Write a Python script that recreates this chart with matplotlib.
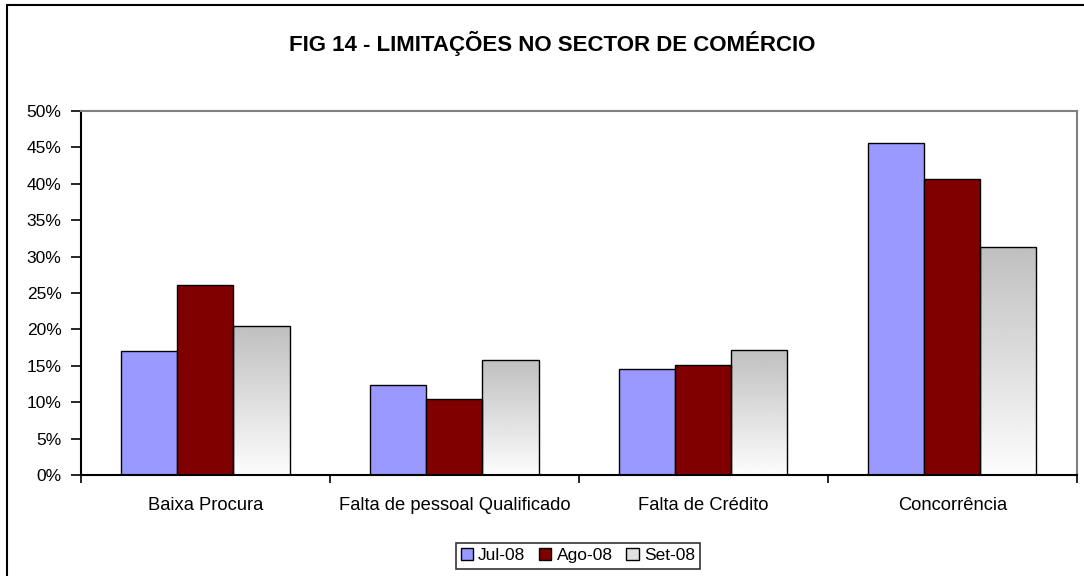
import numpy as np
import matplotlib.pyplot as plt
from matplotlib.patches import Rectangle, Patch

plt.rcParams['font.family'] = ['Liberation Sans', 'DejaVu Sans']

categories = ['Baixa Procura', 'Falta de pessoal Qualificado', 'Falta de Crédito', 'Concorrência']
series = ['Jul-08', 'Ago-08', 'Set-08']
jul = [17.0, 12.3, 14.5, 45.6]
ago = [26.1, 10.4, 15.1, 40.7]
set_ = [20.5, 15.8, 17.2, 31.3]
yticks = [0, 5, 10, 15, 20, 25, 30, 35, 40, 45, 50]

fig = plt.figure(figsize=(10.84, 5.76), dpi=100)
ax = fig.add_axes([0.0747, 0.1753, 0.9188, 0.632])

# outer chart border (cropped on the right and bottom)
fig.patches.append(Rectangle((7 / 1084, -0.1), 1.2, 1 - 5 / 576 + 0.1,
                             transform=fig.transFigure, fill=False,
                             edgecolor='black', linewidth=1.5))

x = np.arange(len(categories))
w = 0.225
ax.bar(x - w, jul, w, color='#9999ff', edgecolor='black', linewidth=1.0, label=series[0])
ax.bar(x, ago, w, color='#800000', edgecolor='black', linewidth=1.0, label=series[1])
bars = ax.bar(x + w, set_, w, color='none', edgecolor='black', linewidth=1.0, label=series[2])

# grey-to-white gradient fill for the Set-08 bars
grad = np.linspace(0.75, 0.99, 256).reshape(-1, 1)
for b in bars:
    x0, y0 = b.get_x(), b.get_y()
    im = ax.imshow(grad, cmap='gray', vmin=0, vmax=1, aspect='auto',
                   extent=[x0, x0 + b.get_width(), y0, y0 + b.get_height()],
                   origin='upper', zorder=b.get_zorder() - 0.1)
    im.set_clip_path(b)

ax.set_xlim(-0.5, len(categories) - 0.5)
ax.set_ylim(0, 50)
ax.set_yticks(yticks)
ax.set_yticklabels([f'{v}%' for v in yticks], fontsize=12.5)
ax.set_xticks(x)
ax.set_xticklabels(categories, fontsize=13.2)
ax.tick_params(axis='x', length=0, pad=16)
ax.set_xticks(np.arange(len(categories) + 1) - 0.5, minor=True)
ax.tick_params(axis='x', which='minor', length=6, width=1.2, direction='out', color='black')
ax.tick_params(axis='y', length=7, width=1.2, direction='out', pad=7)

for s in ['left', 'bottom']:
    ax.spines[s].set_color('black')
    ax.spines[s].set_linewidth(1.5)
for s in ['top', 'right']:
    ax.spines[s].set_color('#808080')
    ax.spines[s].set_linewidth(1.5)

fig.text(0.509, 0.925, 'FIG 14 - LIMITAÇÕES NO SECTOR DE COMÉRCIO',
         ha='center', va='center', fontsize=16, fontweight='bold')

handles = [Patch(facecolor='#9999ff', edgecolor='black'),
           Patch(facecolor='#800000', edgecolor='black'),
           Patch(facecolor='#e0e0e0', edgecolor='black')]
leg = fig.legend(handles, series, loc='center', bbox_to_anchor=(0.533, 0.035),
                 ncol=3, fontsize=12.5, frameon=True, fancybox=False,
                 edgecolor='black', handlelength=0.7, handleheight=0.7,
                 handletextpad=0.3, columnspacing=0.8, borderpad=0.3)
leg.get_frame().set_linewidth(1.2)

fig.savefig('out.png', dpi=100)
